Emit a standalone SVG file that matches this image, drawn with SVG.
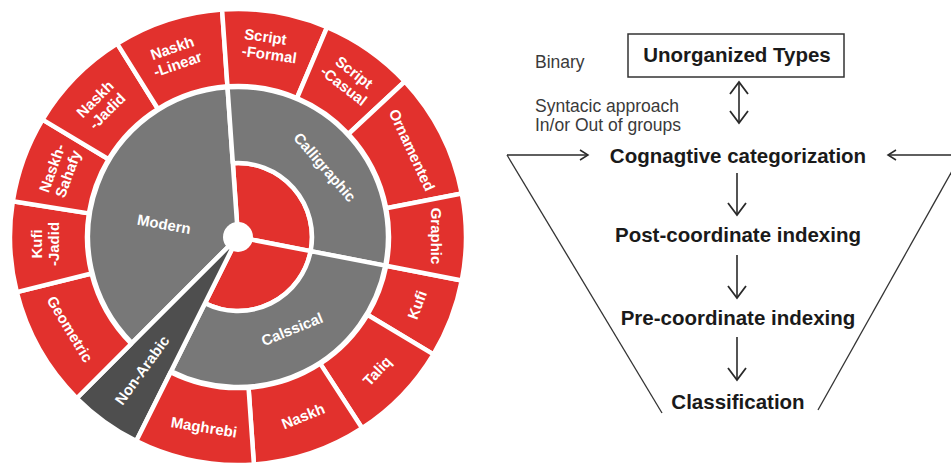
<svg xmlns="http://www.w3.org/2000/svg" width="951" height="463" viewBox="0 0 951 463">
<style>
.red{fill:#e2312d}
.gray{fill:#787878}
.dark{fill:#4e4e4e}
.seg{stroke:#fff;stroke-width:4.5;stroke-linejoin:round}
.lbl{font-family:"Liberation Sans",Arial,Helvetica,sans-serif;font-weight:bold;font-size:15px;fill:#fff;text-anchor:middle}
.b{font-family:"Liberation Sans",Arial,Helvetica,sans-serif;font-weight:bold;font-size:20.5px;fill:#1a1a1a;text-anchor:middle}
.r{font-family:"Liberation Sans",Arial,Helvetica,sans-serif;font-size:17.5px;fill:#3a3a3a}
.ln{fill:none;stroke:#2a2a2a;stroke-width:1.6}
.fn{fill:none;stroke:#333;stroke-width:1.3}
</style>
<defs>
<marker id="hd" markerUnits="userSpaceOnUse" viewBox="-14 -11 16 22" markerWidth="16" markerHeight="22" refX="0" refY="0" orient="auto-start-reverse">
<path d="M-12,-9 L0,0 L-12,9" fill="none" stroke="#2a2a2a" stroke-width="1.8"/>
</marker>
<marker id="hs" markerUnits="userSpaceOnUse" viewBox="-10 -7 12 14" markerWidth="12" markerHeight="14" refX="0" refY="0" orient="auto">
<path d="M-8,-5 L0,0 L-8,5" fill="none" stroke="#2a2a2a" stroke-width="1.5"/>
</marker>
</defs>
<rect width="951" height="463" fill="#fff"/>

<g id="sunburst">
<g id="inner">
<path class="red seg" d="M238,237 L232.83,163.18 A74,74 0 0 1 310.64,251.12 Z"/>
<path class="red seg" d="M238,237 L310.64,251.12 A74,74 0 0 1 204.98,303.22 Z"/>
</g>
<g id="modern">
<path class="gray seg" d="M238,237 L131.93,343.07 A150,150 0 0 1 227.53,87.36 Z"/>
<text class="lbl" transform="translate(164,224) rotate(10)" y="5.4">Modern</text>
</g>
<g id="calligraphic">
<path class="gray seg" d="M232.83,163.18 L227.53,87.36 A150,150 0 0 1 385.24,265.62 L310.64,251.12 A74,74 0 0 0 232.83,163.18 Z"/>
<text class="lbl" transform="translate(325,167) rotate(49)" y="5.4">Calligraphic</text>
</g>
<g id="calssical">
<path class="gray seg" d="M310.64,251.12 L385.24,265.62 A150,150 0 0 1 171.07,371.24 L204.98,303.22 A74,74 0 0 0 310.64,251.12 Z"/>
<text class="lbl" transform="translate(292,329) rotate(-22)" y="5.4">Calssical</text>
</g>
<g id="non-arabic">
<path class="dark seg" d="M238,237 L136.27,441.04 A228,228 0 0 1 76.78,398.22 Z"/>
<text class="lbl" transform="translate(142,370) rotate(-54)" y="5.4">Non-Arabic</text>
</g>

<g id="kufi">
<path class="red seg" d="M386.22,265.81 L461.80,280.50 A228,228 0 0 1 433.44,354.42 L367.44,314.77 A151,151 0 0 0 386.22,265.81 Z"/>
<text class="lbl" transform="translate(417,305) rotate(-70)" y="5.4">Kufi</text>
</g>
<g id="taliq">
<path class="red seg" d="M367.44,314.77 L433.44,354.42 A228,228 0 0 1 362.17,428.22 L320.23,363.64 A151,151 0 0 0 367.44,314.77 Z"/>
<text class="lbl" transform="translate(377,371) rotate(-47)" y="5.4">Taliq</text>
</g>
<g id="naskh">
<path class="red seg" d="M320.23,363.64 L362.17,428.22 A228,228 0 0 1 253.91,464.45 L248.54,387.64 A151,151 0 0 0 320.23,363.64 Z"/>
<text class="lbl" transform="translate(303,416) rotate(-22)" y="5.4">Naskh</text>
</g>
<g id="maghrebi">
<path class="red seg" d="M248.54,387.64 L253.91,464.45 A228,228 0 0 1 136.27,441.04 L170.62,372.13 A151,151 0 0 0 248.54,387.64 Z"/>
<text class="lbl" transform="translate(204,427) rotate(9)" y="5.4">Maghrebi</text>
</g>
<g id="geometric">
<path class="red seg" d="M131.23,343.77 L76.78,398.22 A228,228 0 0 1 16.77,292.15 L91.48,273.53 A151,151 0 0 0 131.23,343.77 Z"/>
<text class="lbl" transform="translate(70,329) rotate(59)" y="5.4">Geometric</text>
</g>
<g id="kufi-jadid">
<path class="red seg" d="M91.48,273.53 L16.77,292.15 A228,228 0 0 1 12.80,201.34 L88.86,213.38 A151,151 0 0 0 91.48,273.53 Z"/>
<text class="lbl" transform="translate(45,244) rotate(-90)"><tspan x="0" y="-3.2">Kufi</tspan><tspan x="0" y="13.8">-Jadid</tspan></text>
</g>
<g id="naskh-sahafy">
<path class="red seg" d="M88.86,213.38 L12.80,201.34 A228,228 0 0 1 42.56,119.58 L108.56,159.23 A151,151 0 0 0 88.86,213.38 Z"/>
<text class="lbl" transform="translate(60,171) rotate(-70)"><tspan x="0" y="-3.2">Naskh-</tspan><tspan x="0" y="13.8">Sahafy</tspan></text>
</g>
<g id="naskh-jadid">
<path class="red seg" d="M108.56,159.23 L42.56,119.58 A228,228 0 0 1 117.18,43.66 L157.99,108.95 A151,151 0 0 0 108.56,159.23 Z"/>
<text class="lbl" transform="translate(101,105) rotate(-45)"><tspan x="0" y="-3.2">Naskh</tspan><tspan x="0" y="13.8">-Jadid</tspan></text>
</g>
<g id="naskh-linear">
<path class="red seg" d="M157.99,108.95 L117.18,43.66 A228,228 0 0 1 222.09,9.55 L227.46,86.36 A151,151 0 0 0 157.99,108.95 Z"/>
<text class="lbl" transform="translate(175,56) rotate(-19)"><tspan x="0" y="-3.2">Naskh</tspan><tspan x="0" y="13.8">-Linear</tspan></text>
</g>
<g id="script-formal">
<path class="red seg" d="M227.46,86.36 L222.09,9.55 A228,228 0 0 1 327.08,27.13 L297.00,98.00 A151,151 0 0 0 227.46,86.36 Z"/>
<text class="lbl" transform="translate(271,46) rotate(8)" style="text-anchor:start"><tspan x="-28" y="-3.2">Script</tspan><tspan x="-28" y="13.8">-Formal</tspan></text>
</g>
<g id="script-casual">
<path class="red seg" d="M297.00,98.00 L327.08,27.13 A228,228 0 0 1 404.76,81.50 L348.44,134.02 A151,151 0 0 0 297.00,98.00 Z"/>
<text class="lbl" transform="translate(349,79) rotate(38)"><tspan x="0" y="-3.2">Script</tspan><tspan x="0" y="13.8">-Casual</tspan></text>
</g>
<g id="ornamented">
<path class="red seg" d="M348.44,134.02 L404.76,81.50 A228,228 0 0 1 461.80,193.50 L386.22,208.19 A151,151 0 0 0 348.44,134.02 Z"/>
<text class="lbl" transform="translate(412,150) rotate(65)" y="5.4">Ornamented</text>
</g>
<g id="graphic">
<path class="red seg" d="M386.22,208.19 L461.80,193.50 A228,228 0 0 1 461.80,280.50 L386.22,265.81 A151,151 0 0 0 386.22,208.19 Z"/>
<text class="lbl" transform="translate(436,236) rotate(90)" y="5.4">Graphic</text>
</g>
<circle id="hub" cx="238" cy="237" r="15" fill="#fff"/>
</g>

<g id="unorganized-types">
<rect x="628" y="34" width="216" height="43" fill="none" stroke="#333" stroke-width="1.5"/>
<text class="b" x="737" y="62">Unorganized Types</text>
</g>
<g id="binary"><text class="r" x="535" y="68">Binary</text></g>
<g id="syntactic">
<text class="r" x="535" y="112">Syntacic approach</text>
<text class="r" x="535" y="131">In/or Out of groups</text>
</g>
<g id="cognitive"><text class="b" x="738" y="163">Cognagtive categorization</text></g>
<g id="post"><text class="b" x="738" y="242">Post-coordinate indexing</text></g>
<g id="pre"><text class="b" x="738" y="325">Pre-coordinate indexing</text></g>
<g id="classification"><text class="b" x="738" y="409">Classification</text></g>

<g id="connectors">
<line class="ln" x1="739" y1="82" x2="739" y2="123" marker-start="url(#hd)" marker-end="url(#hd)"/>
<line class="ln" x1="737" y1="173" x2="737" y2="215" marker-end="url(#hd)"/>
<line class="ln" x1="737" y1="255" x2="737" y2="298" marker-end="url(#hd)"/>
<line class="ln" x1="737" y1="337" x2="737" y2="380" marker-end="url(#hd)"/>
<line class="ln" x1="507" y1="155" x2="588" y2="155" marker-end="url(#hs)"/>
<line class="ln" x1="955" y1="155" x2="888" y2="155" marker-end="url(#hs)"/>
<line class="fn" x1="507" y1="155" x2="662" y2="413"/>
<line class="fn" x1="818" y1="410" x2="961" y2="155"/>
</g>
</svg>
